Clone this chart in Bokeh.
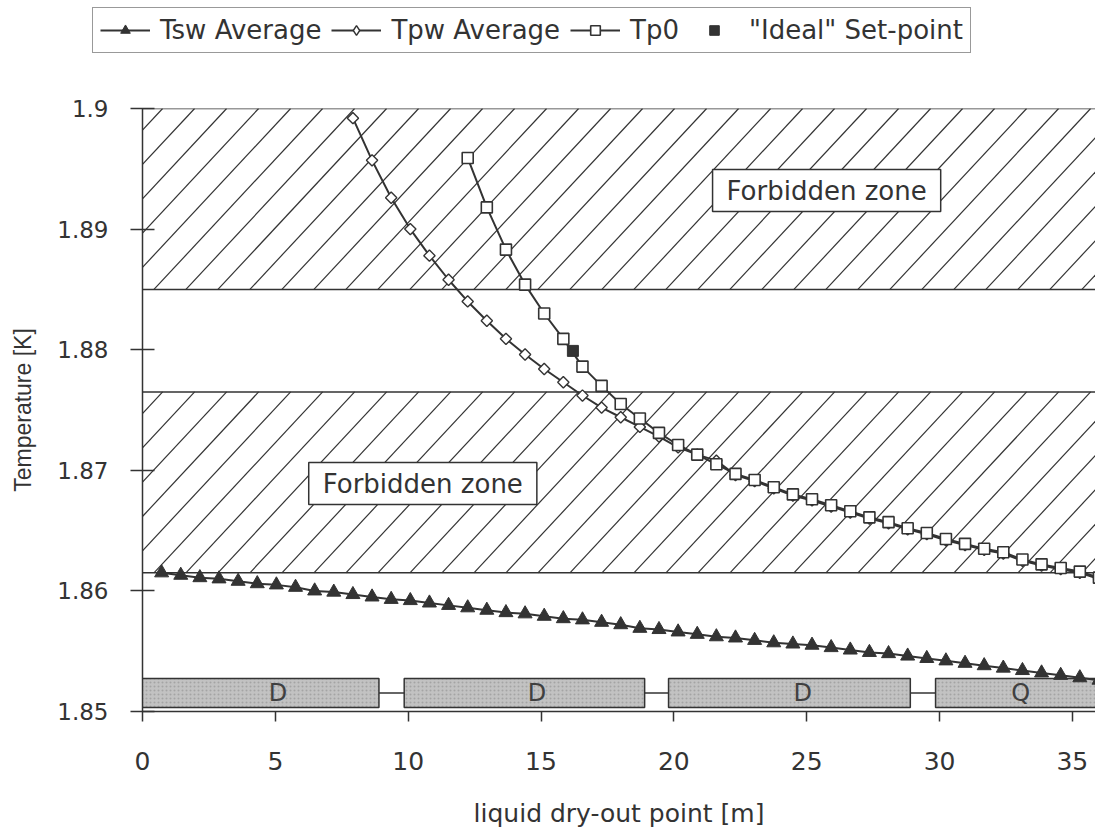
import math
import numpy as np
from bokeh.plotting import figure
from bokeh.layouts import column
from bokeh.models import (Range1d, FixedTicker, CustomJSTickFormatter, Legend,
                          LegendItem, Label)
from bokeh.embed import file_html
from bokeh.resources import INLINE
from bokeh.core.properties import value

# ---- data -------------------------------------------------------------
# dry-out point positions along the cell [m]
dist = [0.72, 1.44, 2.16, 2.88, 3.60, 4.32, 5.04, 5.76, 6.48, 7.20,
        7.92, 8.64, 9.36, 10.08, 10.80, 11.52, 12.24, 12.96, 13.68, 14.40,
        15.12, 15.84, 16.56, 17.28, 18.00, 18.72, 19.44, 20.16, 20.88, 21.60,
        22.32, 23.04, 23.76, 24.48, 25.20, 25.92, 26.64, 27.36, 28.08, 28.80,
        29.52, 30.24, 30.96, 31.68, 32.40, 33.12, 33.84, 34.56, 35.28, 36.00]

# average superfluid bath temperature [K]
tsw = [1.8615, 1.8613, 1.8611, 1.8610, 1.8608, 1.8606, 1.8605, 1.8603, 1.8600, 1.8599,
       1.8597, 1.8595, 1.8593, 1.8592, 1.8590, 1.8588, 1.8586, 1.8584, 1.8582, 1.8581,
       1.8579, 1.8577, 1.8576, 1.8574, 1.8572, 1.8569, 1.8568, 1.8566, 1.8564, 1.8562,
       1.8561, 1.8559, 1.8557, 1.8556, 1.8555, 1.8553, 1.8551, 1.8549, 1.8548, 1.8546,
       1.8544, 1.8542, 1.8540, 1.8538, 1.8536, 1.8534, 1.8532, 1.8530, 1.8528, 1.8526]

# average pressurised bath temperature [K], from 7.92 m on
tpw_x = dist[10:]
tpw = [1.8992, 1.8957, 1.8926, 1.8900, 1.8878, 1.8858, 1.8840, 1.8824, 1.8809, 1.8796,
       1.8784, 1.8773, 1.8762, 1.8752, 1.8744, 1.8736, 1.8728, 1.8719, 1.8713, 1.8708,
       1.8696, 1.8691, 1.8685, 1.8679, 1.8675, 1.8670, 1.8665, 1.8660, 1.8656, 1.8651,
       1.8647, 1.8642, 1.8638, 1.8634, 1.8631, 1.8625, 1.8621, 1.8618, 1.8615, 1.8610]

# Tp0 [K], from 12.24 m on
tp0_x = dist[16:]
tp0 = [1.8959, 1.8918, 1.8883, 1.8854, 1.8830, 1.8809, 1.8786, 1.8770, 1.8755, 1.8743,
       1.8731, 1.8721, 1.8713, 1.8705, 1.8697, 1.8692, 1.8686, 1.8680, 1.8676, 1.8671,
       1.8666, 1.8661, 1.8657, 1.8652, 1.8648, 1.8643, 1.8639, 1.8635, 1.8632, 1.8626,
       1.8622, 1.8619, 1.8616, 1.8611]

# "ideal" set-point
setpoint_x = [16.2]
setpoint_y = [1.8799]

# forbidden temperature bands [K]
zone_bottom = [1.8850, 1.8615]
zone_top = [1.9000, 1.8765]
zone_label_x = [25.75, 10.55]
zone_label_y = [1.8932, 1.8689]

# magnet layout along the cell [m]
magnet_left = [-1.0, 9.85, 19.8, 29.85]
magnet_right = [8.9, 18.9, 28.9, 36.6]
magnet_label_x = [5.1, 14.85, 24.85, 33.05]
magnet_type = ["D", "D", "D", "Q"]
magnet_bottom = 1.85033
magnet_top = 1.85274

x_ticks = [0, 5, 10, 15, 20, 25, 30, 35]
y_ticks = [1.85, 1.86, 1.87, 1.88, 1.89, 1.90]

# ---- styling ------------------------------------------------------------
FONT = "DejaVu Sans"
AXFONT = "Liberation Sans"
INK = "#333333"

X0, X1 = 0, 35.87
Y0, Y1 = 1.85, 1.90
FRAME_W, FRAME_H = 953, 603

p = figure(width=1095, height=774, output_backend="svg", toolbar_location=None,
           x_range=Range1d(X0, X1), y_range=Range1d(Y0, Y1),
           min_border_left=142, min_border_right=0,
           min_border_top=48, min_border_bottom=123)
p.frame_align = False
p.outline_line_color = None
p.xgrid.visible = False
p.ygrid.visible = False
p.background_fill_color = "white"

# forbidden zones: white bands with 47-degree hatching
px_per_x = FRAME_W / (X1 - X0)
px_per_y = FRAME_H / (Y1 - Y0)
p.quad(left=-1, right=40, bottom=zone_bottom, top=zone_top,
       fill_color="white", line_color=INK, line_width=1.5)
hatch_step = 32 / px_per_x
hatch_starts = np.arange(-8.0, 40.0, hatch_step)
for zb, zt in zip(zone_bottom, zone_top):
    run = (zt - zb) * px_per_y / math.tan(math.radians(47)) / px_per_x
    p.segment(x0=hatch_starts, y0=zb, x1=hatch_starts + run, y1=zt,
              line_color=INK, line_width=1.2)

# magnets along the bottom
mid = (magnet_bottom + magnet_top) / 2
p.segment(x0=magnet_right[:-1], x1=magnet_left[1:], y0=mid, y1=mid,
          line_color=INK, line_width=1.5)
p.quad(left=magnet_left, right=magnet_right, bottom=magnet_bottom, top=magnet_top,
       fill_color="#c2c2c2", hatch_pattern="dot", hatch_scale=4, hatch_weight=0.6,
       hatch_color="#8f8f8f", hatch_alpha=0.6, line_color=INK, line_width=1.5)
p.text(x=magnet_label_x, y=[mid] * 4, text=magnet_type,
       text_align="center", text_baseline="middle",
       text_font=value(FONT), text_font_size="24px", text_color="#404040")

# series
tsw_style = dict(marker="triangle", size=14, fill_color=INK, line_color=INK)
tpw_style = dict(marker="square", angle=0.785398, size=8,
                 fill_color="white", line_color=INK, line_width=1.4)
tp0_style = dict(marker="square", size=11, fill_color="white",
                 line_color=INK, line_width=1.6)
set_style = dict(marker="square", size=11, fill_color=INK, line_color=INK)

p.line(dist, tsw, line_color=INK, line_width=2)
p.scatter(dist, tsw, **tsw_style)
p.line(tpw_x, tpw, line_color=INK, line_width=2)
p.scatter(tpw_x, tpw, **tpw_style)
p.line(tp0_x, tp0, line_color=INK, line_width=2)
p.scatter(tp0_x, tp0, **tp0_style)
p.scatter(setpoint_x, setpoint_y, **set_style)

# zone labels
for lx, ly in zip(zone_label_x, zone_label_y):
    p.add_layout(Label(x=lx, y=ly, text="Forbidden zone",
                       text_align="center", text_baseline="middle",
                       text_font=FONT, text_font_size="26px", text_color=INK,
                       background_fill_color="white", background_fill_alpha=1.0,
                       border_line_color=INK, border_line_width=1.5,
                       padding=dict(left=14, right=14, top=6, bottom=6)))

# axes
p.xaxis.ticker = FixedTicker(ticks=x_ticks)
p.xaxis.axis_label = "liquid dry-out point [m]"
p.yaxis.ticker = FixedTicker(ticks=y_ticks)
p.yaxis.formatter = CustomJSTickFormatter(code="return Number(tick.toFixed(2)).toString();")
p.yaxis.axis_label = "Temperature [K]"

for ax in (p.xaxis[0], p.yaxis[0]):
    ax.axis_line_color = INK
    ax.axis_line_width = 1.5
    ax.major_tick_line_color = INK
    ax.major_tick_line_width = 1.5
    ax.minor_tick_line_color = None
    ax.major_label_text_font = FONT
    ax.major_label_text_color = INK
    ax.axis_label_text_font_style = "normal"
    ax.axis_label_text_color = INK

p.xaxis.major_tick_in = 0
p.xaxis.major_tick_out = 10
p.xaxis.major_label_text_font_size = "25px"
p.xaxis.major_label_standoff = 30
p.xaxis.axis_label_text_font = FONT
p.xaxis.axis_label_text_font_size = "25px"
p.xaxis.axis_label_standoff = 26

p.yaxis.major_tick_in = 12
p.yaxis.major_tick_out = 12
p.yaxis.major_label_text_font_size = "23px"
p.yaxis.major_label_standoff = 22
p.yaxis.axis_label_text_font = AXFONT
p.yaxis.axis_label_text_font_size = "23px"
p.yaxis.axis_label_standoff = 18

# legend strip above the chart; its key glyphs carry the same data and
# styles as the chart series, but sit outside this strip's visible range
lf = figure(width=1095, height=60, output_backend="svg", toolbar_location=None,
            x_range=Range1d(-2, -1), y_range=Range1d(0, 1),
            x_axis_type=None, y_axis_type=None,
            min_border_left=0, min_border_right=0, min_border_top=0, min_border_bottom=0)
lf.frame_align = False
lf.outline_line_color = None
lf.xgrid.visible = False
lf.ygrid.visible = False

k_tsw_l = lf.line(dist, tsw, line_color=INK, line_width=2)
k_tsw_m = lf.scatter(dist, tsw, **tsw_style)
k_tpw_l = lf.line(tpw_x, tpw, line_color=INK, line_width=2)
k_tpw_m = lf.scatter(tpw_x, tpw, marker="diamond", size=12,
                     fill_color="white", line_color=INK, line_width=1.4)
k_tp0_l = lf.line(tp0_x, tp0, line_color=INK, line_width=2)
k_tp0_m = lf.scatter(tp0_x, tp0, **tp0_style)
k_set_m = lf.scatter(setpoint_x, setpoint_y, **set_style)

legend = Legend(items=[
    LegendItem(label="Tsw Average", renderers=[k_tsw_l, k_tsw_m]),
    LegendItem(label="Tpw Average", renderers=[k_tpw_l, k_tpw_m]),
    LegendItem(label="Tp0", renderers=[k_tp0_l, k_tp0_m]),
    LegendItem(label='"Ideal" Set-point', renderers=[k_set_m]),
], orientation="horizontal", location=(92, 7))
legend.label_text_font = FONT
legend.label_text_font_size = "26px"
legend.label_text_color = INK
legend.border_line_color = INK
legend.border_line_width = 1.5
legend.background_fill_color = "white"
legend.background_fill_alpha = 1.0
legend.padding = 7
legend.spacing = 10
legend.margin = 0
legend.glyph_width = 50
legend.glyph_height = 24
legend.label_standoff = 10
lf.add_layout(legend)

layout = column(lf, p, spacing=0)
open("out.html", "w").write(file_html(layout, INLINE))
